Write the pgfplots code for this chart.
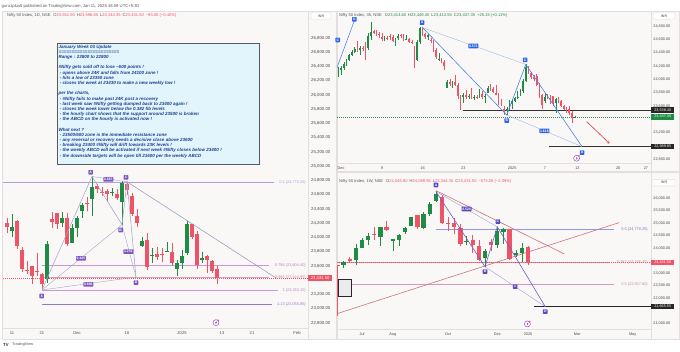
\documentclass[border=0pt]{standalone}
\usepackage{pgfplots}
\pgfplotsset{compat=1.18}
\usepackage{pgfplotstable}
\usepackage{fontspec}
\setmainfont{Liberation Sans}
\usetikzlibrary{arrows.meta}

\definecolor{cgreen}{HTML}{1E8C45}
\definecolor{cred}{HTML}{EF5366}
\definecolor{panelbg}{HTML}{FAF8F6}
\definecolor{sepc}{HTML}{E2DFDC}
\definecolor{labgrey}{HTML}{4A4A4A}
\definecolor{hdr}{HTML}{555555}
\definecolor{boxfill}{HTML}{E2F5FC}
\definecolor{boxborder}{HTML}{5A5A5A}
\definecolor{boxtext}{HTML}{1B3E8E}
\definecolor{hpur}{HTML}{7E57C2}
\definecolor{hline}{HTML}{A3A6CF}
\definecolor{fiba}{HTML}{B39DDB}
\definecolor{fibb}{HTML}{CE93D8}
\definecolor{fibc}{HTML}{E79BC0}
\definecolor{tblue}{HTML}{4E7FE6}
\definecolor{tbluel}{HTML}{A5BDF0}
\definecolor{tblab}{HTML}{2F66E8}
\definecolor{wpur}{HTML}{6B5FC7}
\definecolor{wpurl}{HTML}{ABA3DF}
\definecolor{wlab}{HTML}{5A4BC0}
\definecolor{trend}{HTML}{C9747C}
\definecolor{wfiba}{HTML}{8E9BE0}
\definecolor{wfibb}{HTML}{E48A98}
\definecolor{wfibc}{HTML}{D896BE}
\definecolor{iconc}{HTML}{9C4DCC}
\definecolor{arrowc}{HTML}{E53935}

\pgfplotsset{
  tvaxis/.style={scale only axis, clip mode=individual, axis line style={draw=none},
    major tick length=0pt, tick style={draw=none}, yticklabel pos=right,
    scaled y ticks=false, scaled x ticks=false,
    colormap={ud}{color=(cred) color=(cgreen)}, point meta min=0, point meta max=1,
    y tick label style={font=\fontsize{3.8}{3.8}\selectfont, text=labgrey, anchor=west, inner sep=0pt, xshift=2.2pt,
      /pgf/number format/fixed, /pgf/number format/fixed zerofill, /pgf/number format/precision=2, /pgf/number format/1000 sep={,}, /pgf/number format/assume math mode=true},
    x tick label style={font=\fontsize{3.8}{3.8}\selectfont, text=labgrey, anchor=north, inner sep=0pt, yshift=-3.2pt},
  },
  wick/.style={point meta=explicit, line width=#1, quiver={u=0, v=\thisrow{h}-\thisrow{l}, colored=mapped color, every arrow/.append style={line width=#1}}},
  body/.style={point meta=explicit, line width=#1, quiver={u=0, v=\thisrow{c}-\thisrow{o}, colored=mapped color, every arrow/.append style={line width=#1}}},
}
\tikzset{
  plab/.style={fill=#1, text=white, rounded corners=0.6pt, inner sep=0.7pt, minimum height=4.6pt, minimum width=4.6pt, font=\fontsize{3.4}{3.4}\selectfont\bfseries},
  pricelab/.style={fill=#1, text=white, anchor=west, inner sep=0pt, minimum height=5.6pt, minimum width=23pt, font=\fontsize{3.8}{3.8}\selectfont},
  fiblab/.style={text=#1, anchor=east, inner sep=0pt, font=\fontsize{3.9}{3.9}\selectfont},
}
\newcommand{\tvicon}[2]{\node[circle, draw=iconc, line width=0.5pt, fill=white, minimum size=6pt, inner sep=0pt] (ic) at (axis cs:#1,#2) {}; \fill[cred] (ic.north east) circle[radius=0.9pt]; \draw[iconc, line width=0.4pt] ([xshift=0.6pt,yshift=1.3pt]ic.center) -- ([xshift=-0.6pt,yshift=0pt]ic.center) -- ([xshift=0.6pt,yshift=0pt]ic.center) -- ([xshift=-0.6pt,yshift=-1.3pt]ic.center);}

\pgfplotstableread{
x o h l c up
-1 24207 24276 24066 24148 0
0 24087 24336 24005 24141 1
1 24226 24243 23839 23884 0
2 23822 23873 23509 23559 0
3 23543 23675 23484 23532 0
4 23605 23606 23350 23453 0
5 23529 23780 23464 23518 0
6 23489 23507 23264 23349 0
7 23411 23956 23360 23907 1
8 24253 24352 24135 24222 0
9 24343 24344 24125 24194 0
10 24204 24354 24145 24275 1
11 24274 24345 23874 23914 0
12 23927 24188 23927 24131 1
13 24140 24302 24008 24276 1
14 24367 24481 24280 24457 1
15 24489 24573 24367 24467 0
16 24539 24857 24296 24708 1
17 24729 24751 24620 24677 0
18 24633 24705 24580 24619 0
19 24652 24677 24511 24610 0
20 24620 24691 24583 24641 1
21 24604 24675 24527 24548 0
22 24498 24792 24180 24768 1
23 24753 24782 24601 24668 0
24 24584 24624 24303 24336 0
25 24297 24394 24149 24198 0
26 23877 24004 23870 23951 1
27 23960 24065 23537 23587 0
28 23738 23847 23645 23753 1
29 23770 23867 23685 23727 0
30 23775 23854 23653 23750 0
31 23801 23938 23800 23813 1
32 23796 23916 23599 23644 0
33 23560 23689 23460 23645 1
34 23637 23822 23562 23742 1
35 23783 24226 23751 24188 1
36 24196 24196 23976 24005 0
37 24045 24089 23551 23616 0
38 23680 23795 23637 23707 1
39 23746 23751 23496 23689 0
40 23674 23689 23503 23527 0
41 23552 23597 23344 23432 0
}\dataL

\pgfplotstableread{
x o h l c up
-0.333 24050 24188 24040 24131 1
0 24140 24200 24070 24180 1
0.333 24180 24260 24150 24240 1
0.667 24240 24302 24200 24276 1
1 24300 24390 24280 24370 1
1.333 24370 24440 24350 24420 1
1.667 24420 24481 24400 24457 1
2 24489 24573 24420 24440 0
2.333 24440 24500 24367 24470 1
2.667 24480 24500 24430 24467 0
3 24539 24560 24296 24480 0
3.333 24480 24700 24450 24650 1
3.667 24650 24857 24600 24708 1
4 24729 24751 24680 24700 0
4.333 24710 24740 24660 24690 0
4.667 24690 24720 24620 24677 0
5 24633 24705 24580 24610 0
5.333 24610 24650 24585 24630 1
5.667 24630 24660 24590 24619 0
6 24652 24677 24590 24640 0
6.333 24640 24670 24560 24580 0
6.667 24580 24630 24511 24610 1
7 24620 24691 24600 24660 1
7.333 24665 24690 24630 24650 0
7.667 24650 24680 24583 24641 0
8 24604 24675 24590 24615 1
8.333 24615 24630 24550 24565 0
8.667 24565 24600 24527 24548 0
9 24498 24510 24180 24300 0
9.333 24300 24600 24280 24560 1
9.667 24560 24792 24540 24768 1
10 24753 24782 24660 24690 0
10.333 24690 24700 24610 24640 0
10.667 24640 24690 24601 24668 1
11 24594 24624 24550 24580 0
11.333 24580 24590 24420 24450 0
11.667 24450 24470 24303 24336 0
12 24297 24394 24280 24310 1
12.333 24300 24330 24250 24270 0
12.667 24270 24290 24149 24198 0
13 23877 23990 23870 23960 1
13.333 23960 24004 23900 23930 0
13.667 23930 23980 23870 23951 1
14 23960 24065 23900 23920 0
14.333 23920 23940 23700 23750 0
14.667 23750 23760 23537 23587 0
15 23738 23800 23645 23760 1
15.333 23760 23847 23700 23730 0
15.667 23730 23780 23700 23753 1
16 23770 23867 23700 23720 0
16.333 23720 23760 23685 23740 1
16.667 23740 23760 23700 23727 0
17 23765 23854 23720 23780 1
17.333 23780 23820 23700 23730 0
17.667 23730 23780 23653 23750 1
18 23801 23900 23800 23870 1
18.333 23870 23938 23820 23850 0
18.667 23850 23880 23800 23813 0
19 23796 23916 23760 23770 0
19.333 23770 23790 23620 23650 0
19.667 23660 23700 23599 23644 0
20 23560 23600 23460 23520 0
20.333 23520 23580 23470 23560 1
20.667 23560 23689 23540 23645 1
21 23637 23700 23562 23680 1
21.333 23680 23740 23660 23720 1
21.667 23720 23822 23700 23742 1
22 23783 23850 23751 23830 1
22.333 23830 24000 23800 23980 1
22.667 23980 24226 23960 24188 1
23 24196 24196 24080 24100 0
23.333 24100 24120 24000 24040 0
23.667 24040 24060 23976 24005 0
24 24045 24089 23900 23920 0
24.333 23920 23940 23720 23760 0
24.667 23760 23780 23551 23616 0
25 23680 23795 23640 23740 1
25.333 23740 23780 23700 23720 0
25.667 23720 23760 23637 23707 0
26 23746 23751 23600 23650 0
26.333 23650 23720 23496 23700 1
26.667 23705 23730 23650 23689 0
27 23674 23689 23580 23600 0
27.333 23600 23620 23540 23560 0
27.667 23560 23580 23503 23527 0
28 23552 23597 23460 23500 0
28.333 23500 23520 23344 23414 0
28.667 23415 23449 23414 23437 1
}\dataT

\pgfplotstableread{
x o h l c up
-4 23337 23339 21281 23290 0
-3 23319 23490 23206 23465 1
-2 23570 23667 23398 23501 0
-1 23538 24174 23350 24010 1
0 24010 24401 23992 24323 1
1 24329 24592 24141 24502 1
2 24587 24854 24350 24531 0
3 24445 24861 24074 24834 1
4 24839 25078 24687 24718 0
5 24302 24382 23894 24367 1
6 24320 24563 24100 24541 1
7 24636 24868 24567 24823 1
8 24906 25268 24895 25236 1
9 25333 25334 24753 24852 0
10 24823 25433 24753 25357 1
11 25383 25849 25285 25791 1
12 25872 26277 25847 26179 1
13 26061 26135 24967 25014 0
14 24995 25234 24694 24964 0
15 25023 25213 24567 24854 0
16 24798 24978 24074 24181 0
17 24252 24499 24140 24304 1
18 24315 24537 23816 24148 0
19 24087 24336 23484 23533 0
20 23605 23956 23263 23907 1
21 24253 24354 23874 24131 0
22 24140 24857 24008 24678 1
23 24633 24792 24180 24768 1
24 24753 24782 23537 23588 0
25 23738 23938 23645 23814 1
26 23796 24226 23460 24005 1
27 24046 24090 23344 23432 0
}\dataW

\newcommand{\hd}[7]{{\color{hdr}#1\hspace{3pt}O}{\color{#7}#2}\hspace{2pt}{\color{hdr}H}{\color{#7}#3}\hspace{2pt}{\color{hdr}L}{\color{#7}#4}\hspace{2pt}{\color{hdr}C}{\color{#7}#5\hspace{2pt}#6}}

\begin{document}
\begin{tikzpicture}[x=1pt,y=1pt]
\fill[white] (0,0) rectangle (680,352);
% panels
\fill[panelbg] (2,13) rectangle (336,341);
\fill[panelbg] (337,181) rectangle (679,341);
\fill[panelbg] (337,13) rectangle (679,180);
\draw[sepc, line width=0.5pt] (2,13) rectangle (336,341);
\draw[sepc, line width=0.5pt] (337,181) rectangle (679,341);
\draw[sepc, line width=0.5pt] (337,13) rectangle (679,180);
\draw[sepc, line width=0.5pt] (308,13) -- (308,341) (2,24) -- (308,24);
\draw[sepc, line width=0.5pt] (651,181) -- (651,341) (337,189) -- (651,189);
\draw[sepc, line width=0.5pt] (651,13) -- (651,180) (337,22.7) -- (651,22.7);

% ================= LEFT DAILY =================
\begin{axis}[tvaxis, at={(3pt,24pt)}, anchor=south west, width=305pt, height=316pt,
  xmin=-1.8, xmax=59.2, ymin=22730, ymax=27165,
  ytick={22800,23000,23200,23600,23800,24000,24200,24400,24600,24800,25000,25200,25400,25600,25800,26000,26200,26400,26600,26800},
  y tick label style={font=\fontsize{4.3}{4.3}\selectfont, xshift=0.8pt},
  x tick label style={font=\fontsize{4.1}{4.1}\selectfont},
  xtick={0,6,13,23,34,42,48,57}, xticklabels={11,21,Dec,16,2025,13,21,Feb}]
% fib levels
\addplot[fiba, line width=0.6pt] coordinates {(-1.8,24770.25) (52.3,24770.25)};
\addplot[fibb, line width=0.6pt] coordinates {(6,23604.40) (51.3,23604.40)};
\addplot[fibc, line width=0.6pt] coordinates {(6,23444.95) (51.3,23444.95)};
\addplot[fibb, line width=0.6pt] coordinates {(6,23263.15) (53.2,23263.15)};
\addplot[hpur!80, line width=0.6pt] coordinates {(6,23055.85) (51.9,23055.85)};
\addplot[cred, line width=0.4pt, dash pattern=on 1pt off 1pt] coordinates {(-1.8,23431.5) (59.2,23431.5)};
% candles
\addplot[wick=0.5pt] table[x=x, y=l, meta=up]{\dataL};
\addplot[body=3.4pt] table[x=x, y=o, meta=up]{\dataL};
% XABCD pattern
\addplot[hline, line width=0.55pt] coordinates {(6,23264) (16,24857) (22,24180) (23,24782) (24.8,23445)};
\addplot[hline, line width=0.4pt] coordinates {(6,23264) (22,24180) (24.8,23445) (6,23264)};
\addplot[hline, line width=0.4pt] coordinates {(16,24857) (23,24782)};
\addplot[hline!90!black, line width=0.5pt] coordinates {(23,24782) (52.9,23427)};
\node[plab=hpur] at (axis cs:5.93,23179) {X};
\node[plab=hpur] at (axis cs:15.73,24915) {A};
\node[plab=hpur] at (axis cs:21.73,24105) {B};
\node[plab=hpur] at (axis cs:22.8,24844) {C};
\node[plab=hpur] at (axis cs:24.8,23366) {D};
\node[plab=hpur] at (axis cs:19.27,24816) {0.867};
\node[plab=hpur] at (axis cs:13.8,23708) {0.425};
\node[plab=hpur] at (axis cs:23.27,23801) {1.231};
\node[plab=hpur] at (axis cs:15.27,23343) {0.886};
% fib labels
\node[fiblab=fiba] at (axis cs:58.8,24770.25) {0.5 (24,770.25)};
\node[fiblab=fibb!90!black] at (axis cs:58.8,23604.40) {0.786 (23,604.40)};
\node[fiblab=fibc!90!black] at (axis cs:58.8,23444.95) {0.886 (23,444.95)};
\node[fiblab=fibb!90!black] at (axis cs:58.8,23263.15) {1 (23,263.15)};
\node[fiblab=hpur!80] at (axis cs:58.8,23055.85) {1.13 (23,055.85)};
\node[pricelab=cred, minimum width=24pt, font=\fontsize{4.2}{4.2}\selectfont] at (axis cs:59.2,23431.5) {23,431.50};
\tvicon{40.8}{22805}
\end{axis}

% ================= TOP RIGHT 3h =================
\begin{axis}[tvaxis, at={(337pt,189pt)}, anchor=south west, width=314pt, height=151pt,
  xmin=-0.5, xmax=38.03, ymin=22744, ymax=25015,
  ytick={22800,23200,23600,23800,24000,24200,24400,24600,24800},
  xtick={0,5,10,15,21,25,29,34,37.4}, xticklabels={Dec,9,16,23,2025,7,13,20,27}]
\addplot[cgreen!60!gray, line width=0.4pt, dash pattern=on 1pt off 1pt] coordinates {(-0.5,23437.35) (38.03,23437.35)};
\addplot[black!80, line width=0.6pt] coordinates {(14.93,23538.4) (38.03,23538.4)};
\addplot[black!80, line width=0.6pt] coordinates {(25.56,22989.85) (38.03,22989.85)};
\addplot[wick=0.35pt] table[x=x, y=l, meta=up]{\dataT};
\addplot[body=1.7pt] table[x=x, y=o, meta=up]{\dataT};
% previous pattern leg
\addplot[tblue, line width=0.55pt] coordinates {(-0.61,24143) (1.63,24885)};
% ABCD
\addplot[tbluel, line width=0.45pt] coordinates {(10,24780) (22.67,24226)};
\addplot[tbluel, line width=0.45pt] coordinates {(20.33,23466) (29.57,22990)};
\addplot[tblue, line width=0.6pt] coordinates {(10,24780) (20.33,23466) (22.67,24226) (29.57,22990)};
\node[plab=tblab] at (axis cs:-0.41,24594) {C};
\node[plab=tblab] at (axis cs:1.63,24905) {D};
\node[plab=tblab] at (axis cs:9.94,24855) {A};
\node[plab=tblab] at (axis cs:20.33,23381) {B};
\node[plab=tblab] at (axis cs:22.58,24294) {C};
\node[plab=tblab] at (axis cs:29.57,22900) {D};
\node[plab=tblab] at (axis cs:16.23,24504) {0.573};
\node[plab=tblab] at (axis cs:24.95,23226) {1.618};
\draw[arrowc, line width=0.6pt, -{To[length=2.5pt,width=3.5pt]}] (axis cs:30.14,23366) -- (axis cs:32.92,23040);
\node[pricelab=black!85] at (axis cs:38.03,23538.4) {23,538.40};
\node[pricelab=cgreen] at (axis cs:38.03,23437.35) {23,437.35};
\node[pricelab=black!85] at (axis cs:38.03,22989.85) {22,989.85};
\tvicon{28.9}{22815}
\end{axis}

% ================= BOTTOM RIGHT 1W =================
\begin{axis}[tvaxis, at={(337pt,22.7pt)}, anchor=south west, width=314pt, height=157.3pt,
  xmin=-4.07, xmax=46.99, ymin=20760, ymax=27052,
  ytick={21000,22000,22500,23000,24000,24500,25000,25500,26000},
  xtick={0,5,14,22,27,35,44}, xticklabels={Jul,Aug,Oct,Dec,2025,Mar,May}]
\addplot[wfiba, line width=0.6pt] coordinates {(12,24770.25) (41,24770.25)};
\addplot[wfibb, line width=0.6pt] coordinates {(-4.07,23435.45) (40.2,23435.45)};
\addplot[wfibc, line width=0.6pt] coordinates {(-4.07,22557.60) (41,22557.60)};
\addplot[cred, line width=0.4pt, dash pattern=on 1pt off 1pt] coordinates {(-4.07,23431.5) (46.99,23431.5)};
\addplot[black!85, line width=0.6pt] coordinates {(28,21665.55) (46.99,21665.55)};
\addplot[trend, line width=0.6pt] coordinates {(12.03,26307) (32.9,23773)};
\addplot[trend, line width=0.6pt] coordinates {(-4.07,21385) (41.8,25027)};
\addplot[wick=0.5pt] table[x=x, y=l, meta=up]{\dataW};
\addplot[body=4.3pt] table[x=x, y=o, meta=up]{\dataW};
% ABCD
\addplot[wpurl, line width=0.45pt] coordinates {(12,26277) (22,24857)};
\addplot[wpurl, line width=0.45pt] coordinates {(20,23263) (29.8,21665.55)};
\addplot[wpur, line width=0.6pt] coordinates {(12,26277) (20,23263) (22,24857) (29.8,21665.55)};
\node[plab=wlab] at (axis cs:12.03,26533) {A};
\node[plab=wlab] at (axis cs:20,23067) {B};
\node[plab=wlab] at (axis cs:22.1,25067) {C};
\node[plab=wlab] at (axis cs:29.8,21468) {D};
\node[plab=wlab] at (axis cs:17,25573) {0.524};
\node[plab=wlab] at (axis cs:24.9,22468) {2};
\draw[black!85, fill=blue!6!gray!15, line width=0.5pt] (axis cs:-3.93,22759) rectangle (axis cs:-1.79,22066);
\node[fiblab=wfiba!80!black] at (axis cs:46.5,24770.25) {0.5 (24,770.25)};
\node[fiblab=wfibb!90!black] at (axis cs:46.5,23435.45) {0.382 (23,435.45)};
\node[fiblab=wfibc!90!black] at (axis cs:46.5,22557.60) {0.5 (22,557.60)};
\node[pricelab=cred] at (axis cs:46.99,23431.5) {23,431.50};
\node[pricelab=black!85] at (axis cs:46.99,21665.55) {21,665.55};
\tvicon{26.9}{20975}
\end{axis}

% INR boxes
\node[draw=sepc, fill=white, rounded corners=1pt, font=\fontsize{3.6}{3.6}\selectfont, text=labgrey, minimum width=20pt, minimum height=6.5pt, inner sep=0.5pt] at (321,336) {INR\hspace{9pt}};
\node[draw=sepc, fill=white, rounded corners=1pt, font=\fontsize{3.6}{3.6}\selectfont, text=labgrey, minimum width=22pt, minimum height=6.5pt, inner sep=0.5pt] at (664,336) {INR\hspace{10pt}};
\node[draw=sepc, fill=white, rounded corners=1pt, font=\fontsize{3.6}{3.6}\selectfont, text=labgrey, minimum width=22pt, minimum height=6.5pt, inner sep=0.5pt] at (664,169.3) {INR\hspace{10pt}};

% headers
\node[anchor=west, inner sep=0pt, font=\fontsize{4.1}{4.1}\selectfont] at (7,337) {\hd{Nifty 50 Index, 1D, NSE}{23,551.90}{23,596.60}{23,344.35}{23,431.50}{−95.00 (−0.40\%)}{cred}};
\node[anchor=west, inner sep=0pt, font=\fontsize{4.1}{4.1}\selectfont] at (339,337) {\hd{Nifty 50 Index, 3h, NSE}{23,414.60}{23,449.40}{23,413.55}{23,437.35}{+25.15 (+0.11\%)}{cgreen}};
\node[anchor=west, inner sep=0pt, font=\fontsize{4.1}{4.1}\selectfont] at (339,170.3) {\hd{Nifty 50 Index, 1W, NSE}{24,045.80}{24,089.95}{23,344.35}{23,431.50}{−573.25 (−2.39\%)}{cred}};

\node[anchor=west, inner sep=0pt, font=\fontsize{4.2}{4.2}\selectfont, text=hdr] at (1.5,346) {guru1plus5 published on TradingView.com, Jan 11, 2025 18:09 UTC+5:30};
\node[anchor=west, inner sep=0pt, font=\fontsize{4.2}{4.2}\selectfont\bfseries, text=black!85] at (3,7) {TV};
\node[anchor=west, inner sep=0pt, font=\fontsize{3.8}{3.8}\selectfont, text=hdr] at (12,7) {TradingView};

% text box
\fill[boxfill] (57,188) rectangle (259,309);
\draw[boxborder, line width=0.6pt] (57,188) rectangle (259,309);
\node[anchor=north west, inner sep=0pt, align=left, text=boxtext, font=\fontsize{4.5}{5.19}\selectfont\bfseries\itshape] at (58.5,307.3) {January Week 03 Update\\
=======================\\
Range : 23800 to 22800\\[5.19pt]
\#Nifty gets sold off to lose \textasciitilde600 points !\\
\ - opens above 24K and falls from 24100 zone !\\
\ - hits a low of 23350 zone\\
\ - closes the week at 23430 to make a new weekly low !\\[5.19pt]
per the charts,\\
\ - \#Nifty fails to make past 24K post a recovery\\
\ - last week saw \#Nifty getting dumped back to 23400 again !\\
\ - closes the week lower below the 0.382 fib levels\\
\ - the hourly chart shows that the support around 23500 is broken\\
\ - the ABCD on the hourly is activated now !\\[5.19pt]
What next ?\\
\ - 23500/600 zone is the immediate resistance zone\\
\ - any reversal or recovery needs a decisive close above 23600\\
\ - breaking 23400 \#Nifty will drift towards 23K levels !\\
\ - the weekly ABCD will be activated if next week \#Nifty closes below 23400 !\\
\ - the downside targets will be open till 21600 per the weekly ABCD};
\pgfresetboundingbox
\path[use as bounding box] (0,0) rectangle (680,352);
\end{tikzpicture}
\end{document}
